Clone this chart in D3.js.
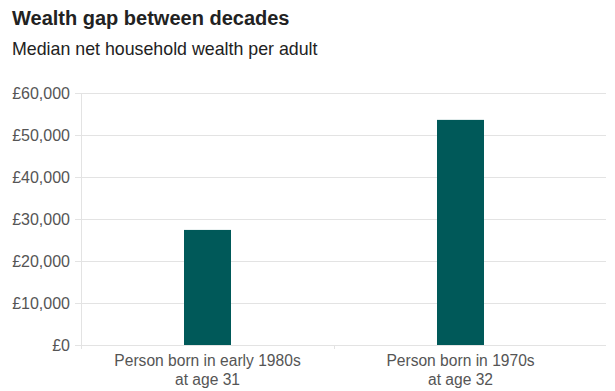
<!DOCTYPE html>
<html>
<head>
<meta charset="utf-8">
<script src="https://cdn.jsdelivr.net/npm/d3@7"></script>
<style>
  body { margin: 0; background: #fff; font-family: "Liberation Sans", Arial, sans-serif; }
</style>
</head>
<body>
<svg id="chart" width="615" height="391"></svg>
<script>
// data
const categories = [
  ["Person born in early 1980s", "at age 31"],
  ["Person born in 1970s", "at age 32"]
];
const wealth = [27400, 53600];
const yTicks = [0, 10000, 20000, 30000, 40000, 50000, 60000];

const svg = d3.select("#chart");
const margin = { top: 93, right: 9, bottom: 46, left: 81 };
const width = 615;
const height = 391;

const x = d3
  .scaleBand()
  .domain(d3.range(categories.length))
  .range([margin.left, 587])
  .paddingInner(0)
  .paddingOuter(0);

const y = d3
  .scaleLinear()
  .domain([0, 60000])
  .range([height - margin.bottom, margin.top]);

// title + subtitle
svg.append("text")
  .attr("x", 12).attr("y", 25)
  .attr("font-size", 20).attr("font-weight", "bold")
  .attr("fill", "#222")
  .text("Wealth gap between decades");
svg.append("text")
  .attr("x", 12).attr("y", 55)
  .attr("font-size", 17.8)
  .attr("fill", "#222")
  .text("Median net household wealth per adult");

// gridlines
svg.append("g")
  .selectAll("line")
  .data(yTicks)
  .enter()
  .append("line")
  .attr("x1", margin.left - 6)
  .attr("x2", width - margin.right)
  .attr("y1", d => Math.round(y(d)) + 0.5)
  .attr("y2", d => Math.round(y(d)) + 0.5)
  .attr("stroke", "#e3e3e3");

// y axis line
svg.append("line")
  .attr("x1", margin.left + 0.5).attr("x2", margin.left + 0.5)
  .attr("y1", margin.top).attr("y2", y(0) + 4)
  .attr("stroke", "#e3e3e3");

// category divider ticks
svg.append("g")
  .selectAll("line")
  .data(d3.range(1, categories.length))
  .enter()
  .append("line")
  .attr("x1", d => Math.round(x(d)) + 0.5)
  .attr("x2", d => Math.round(x(d)) + 0.5)
  .attr("y1", y(0))
  .attr("y2", y(0) + 4)
  .attr("stroke", "#e3e3e3");

// y labels
svg.append("g")
  .selectAll("text")
  .data(yTicks)
  .enter()
  .append("text")
  .attr("x", 70)
  .attr("y", d => y(d) + 5.5)
  .attr("text-anchor", "end")
  .attr("font-size", 16)
  .attr("fill", "#555")
  .text(d => "£" + d3.format(",")(d));

// bars
const barW = 47;
svg.append("g")
  .selectAll("rect")
  .data(wealth)
  .enter()
  .append("rect")
  .attr("x", (d, i) => x(i) + x.bandwidth() / 2 - barW / 2)
  .attr("y", d => y(d))
  .attr("width", barW)
  .attr("height", d => y(0) - y(d))
  .attr("fill", "#005959");

// category labels
const lab = svg.append("g")
  .selectAll("text")
  .data(categories)
  .enter()
  .append("text")
  .attr("text-anchor", "middle")
  .attr("font-size", 15.6)
  .attr("fill", "#555");
lab.each(function (d, i) {
  d.forEach((line, j) => {
    d3.select(this).append("tspan")
      .attr("x", x(i) + x.bandwidth() / 2)
      .attr("y", 366 + j * 19)
      .text(line);
  });
});
</script>
</body>
</html>
